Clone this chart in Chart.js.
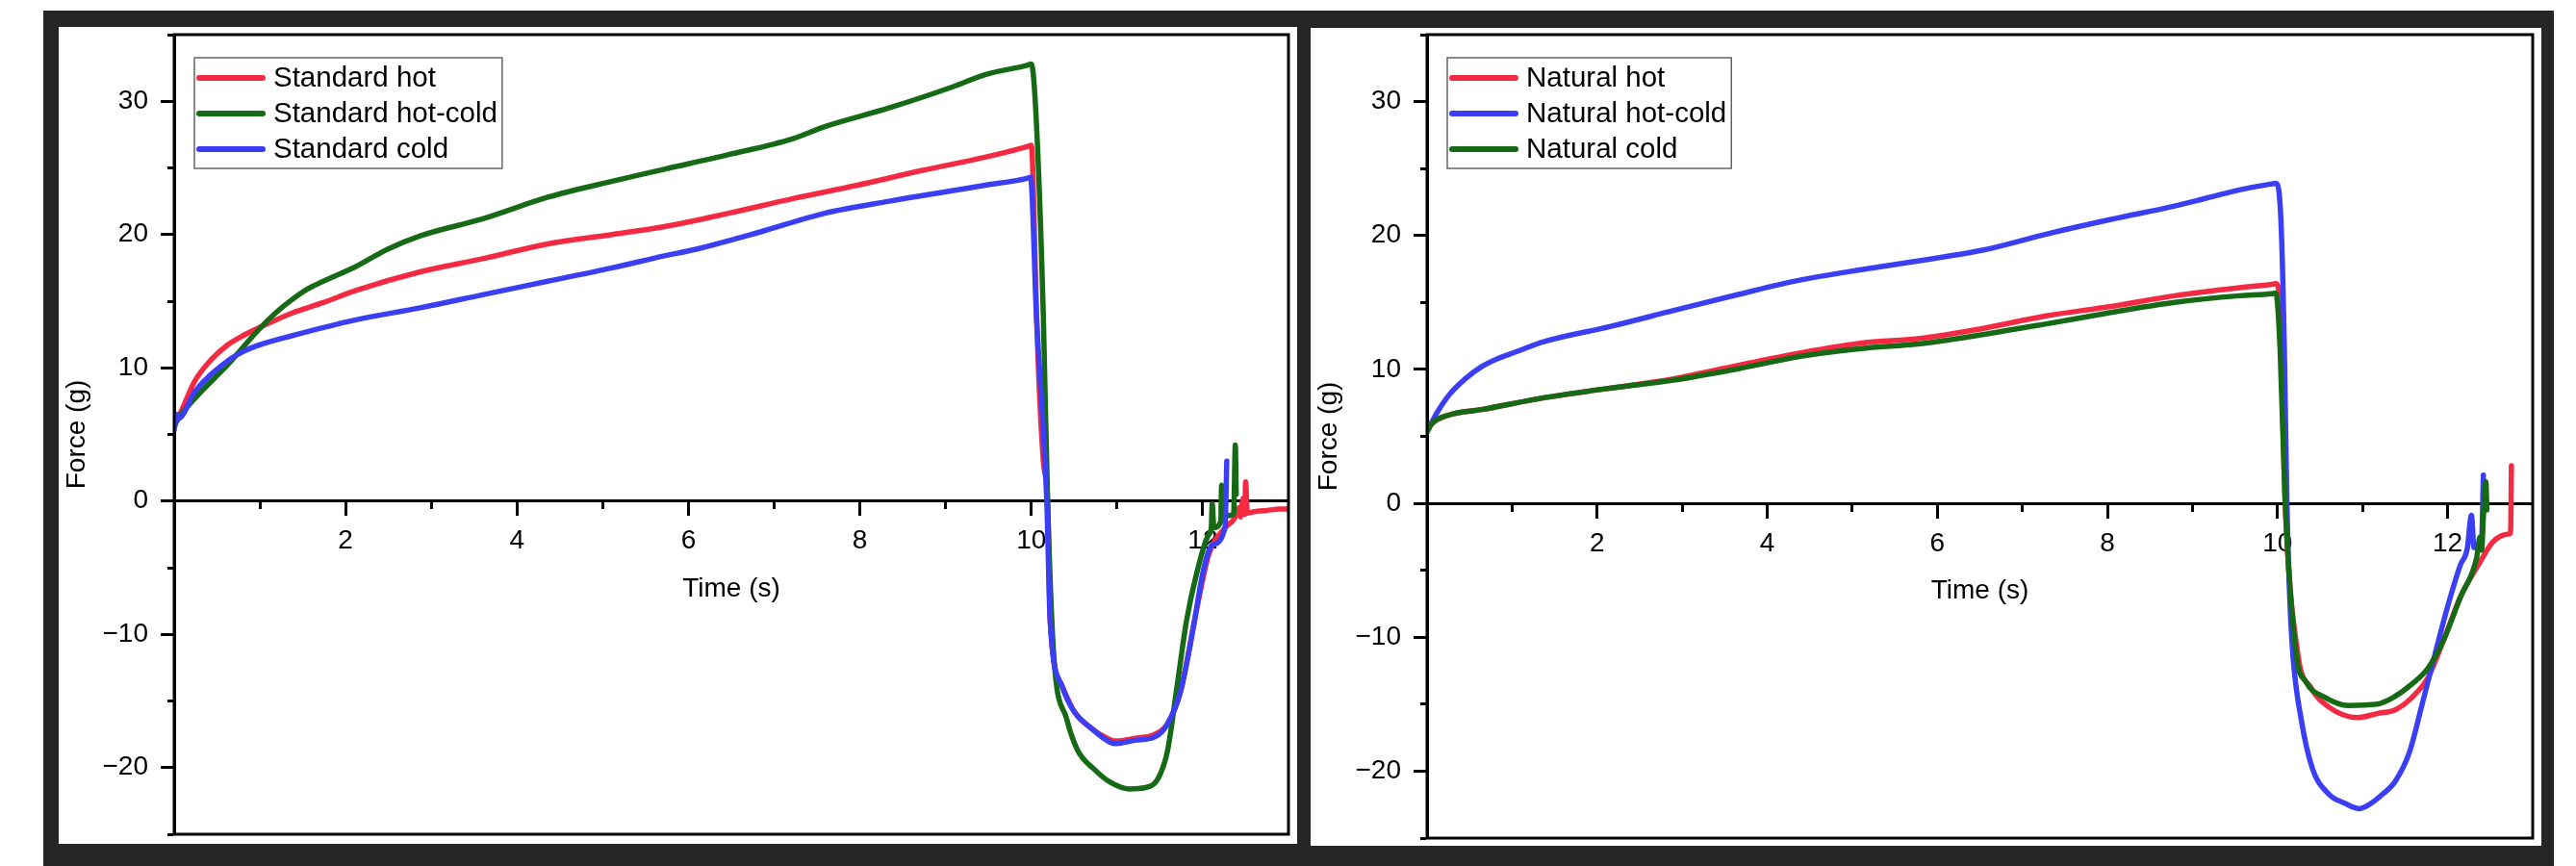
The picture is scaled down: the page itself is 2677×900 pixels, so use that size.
<!DOCTYPE html>
<html>
<head>
<meta charset="utf-8">
<script src="https://cdn.jsdelivr.net/npm/chart.js@4.4.1/dist/chart.umd.min.js"></script>
<style>
  html, body { margin: 0; padding: 0; background: #fff; }
  body { width: 2677px; height: 900px; position: relative; overflow: hidden; }
  .backdrop { position: absolute; left: 45px; top: 11px; width: 2609px; height: 889px; background: #262626; }
  .panel { position: absolute; background: #fff; }
  #leftPanel { left: 61px; top: 28px; width: 1287px; height: 849px; }
  #rightPanel { left: 1362px; top: 29px; width: 1279px; height: 850px; }
  canvas { display: block; }
</style>
</head>
<body>
<div class="backdrop"></div>
<div class="panel" id="leftPanel"><canvas id="standardChart" width="1287" height="849"></canvas></div>
<div class="panel" id="rightPanel"><canvas id="naturalChart" width="1279" height="850"></canvas></div>

<script>
// series labels + colours
const standardLabels = ['Standard hot', 'Standard hot-cold', 'Standard cold'];
const naturalLabels = ['Natural hot', 'Natural hot-cold', 'Natural cold'];
const standardColors = ['rgb(243, 42, 66)', 'rgb(22, 106, 22)', 'rgb(58, 62, 245)'];
const naturalColors = ['rgb(243, 42, 66)', 'rgb(58, 62, 245)', 'rgb(22, 106, 22)'];

// tick labels shown on the axes
const xLabelTicks = [2, 4, 6, 8, 10, 12];
const yLabelTicks = [-20, -10, 0, 10, 20, 30];

// Standard hot
const stdHotTime = [0, 0.05, 0.24, 0.43, 0.62, 0.80, 0.99, 1.37, 1.74, 2.12, 2.87, 3.61, 4.36, 5.11, 5.72, 6.47, 7.22, 7.97, 8.72, 9.46, 9.95, 10.0, 10.02, 10.06, 10.14, 10.19, 10.22, 10.36, 10.50, 10.69, 10.92, 10.99, 11.21, 11.44, 11.59, 11.74, 11.93, 12.07, 12.26, 12.37, 12.42, 12.44, 12.47, 12.49, 12.50, 12.52, 12.60, 12.75, 12.90, 13.0];
const stdHotForce = [5.8, 6.3, 9.0, 10.6, 11.7, 12.4, 13.0, 14.1, 14.9, 15.8, 17.2, 18.2, 19.3, 20.0, 20.6, 21.6, 22.7, 23.7, 24.8, 25.8, 26.6, 26.7, 24.3, 14.0, 3.0, 0, -9.0, -13.9, -15.8, -17.0, -17.9, -18.0, -17.8, -17.5, -16.7, -14.3, -8.1, -4.0, -2.0, -1.3, -0.5, -1.2, 0.2, -1.0, 1.45, -0.9, -0.8, -0.7, -0.6, -0.6];

// Standard hot-cold
const stdHotColdTime = [0, 0.05, 0.24, 0.62, 0.99, 1.18, 1.37, 1.55, 1.74, 2.12, 2.49, 2.87, 3.61, 4.36, 5.11, 5.72, 6.47, 7.22, 7.59, 8.34, 9.09, 9.46, 9.95, 10.0, 10.06, 10.14, 10.19, 10.26, 10.41, 10.54, 10.73, 10.92, 11.14, 11.33, 11.48, 11.59, 11.70, 11.81, 11.93, 12.07, 12.10, 12.11, 12.13, 12.21, 12.22, 12.24, 12.36, 12.38, 12.39];
const stdHotColdForce = [5.6, 6.2, 7.7, 10.2, 12.9, 14.1, 15.1, 15.9, 16.5, 17.6, 18.9, 19.9, 21.2, 22.8, 24.0, 24.9, 26.0, 27.2, 28.1, 29.5, 31.1, 32.0, 32.7, 32.8, 28.3, 13.9, 0, -11.4, -16.3, -18.7, -20.1, -21.1, -21.6, -21.5, -20.8, -18.7, -13.9, -9.0, -5.4, -2.5, -2.0, -0.2, -2.0, -1.5, 1.2, -1.1, -1.0, 4.2, 0.5];

// Standard cold
const stdColdTime = [0, 0.03, 0.05, 0.24, 0.62, 0.80, 0.99, 1.37, 2.12, 2.87, 3.61, 4.36, 5.11, 5.72, 6.09, 6.84, 7.59, 8.34, 9.09, 9.46, 9.94, 9.99, 10.06, 10.18, 10.22, 10.36, 10.50, 10.69, 10.92, 10.99, 11.21, 11.44, 11.59, 11.74, 11.89, 12.0, 12.11, 12.26, 12.28];
const stdColdForce = [5.3, 6.5, 6.2, 8.2, 10.5, 11.2, 11.7, 12.4, 13.6, 14.5, 15.5, 16.5, 17.5, 18.4, 18.9, 20.2, 21.6, 22.5, 23.3, 23.7, 24.2, 24.3, 13.9, 0, -9.0, -13.9, -15.8, -17.0, -18.1, -18.2, -17.95, -17.7, -16.7, -14.3, -9.5, -5.4, -3.3, -2.0, 3.0];

// Natural hot
const natHotTime = [0, 0.05, 0.26, 0.64, 1.39, 2.15, 2.90, 3.66, 4.41, 5.16, 5.77, 6.53, 7.28, 8.04, 8.79, 9.55, 9.93, 9.98, 10.02, 10.09, 10.24, 10.39, 10.60, 10.94, 11.17, 11.39, 11.58, 11.77, 11.96, 12.15, 12.38, 12.53, 12.72, 12.74, 12.75];
const natHotForce = [5.4, 5.9, 6.6, 7.0, 7.9, 8.6, 9.3, 10.3, 11.25, 12.0, 12.3, 13.05, 14.0, 14.7, 15.5, 16.1, 16.35, 16.4, 15.5, 0, -11.3, -13.75, -15.2, -16.0, -15.7, -15.4, -14.5, -13.0, -10.1, -7.0, -4.4, -2.9, -2.3, -2.2, 2.8];

// Natural hot-cold
const natHotColdTime = [0, 0.05, 0.11, 0.26, 0.45, 0.64, 0.83, 1.02, 1.39, 2.15, 2.90, 3.66, 4.41, 5.16, 5.77, 6.53, 7.28, 8.04, 8.79, 9.17, 9.55, 9.93, 9.98, 10.04, 10.08, 10.11, 10.14, 10.18, 10.28, 10.41, 10.60, 10.79, 10.96, 11.05, 11.24, 11.39, 11.55, 11.70, 11.85, 12.0, 12.15, 12.23, 12.28, 12.31, 12.40, 12.42];
const natHotColdForce = [5.6, 6.0, 6.7, 8.1, 9.3, 10.2, 10.8, 11.25, 12.1, 13.2, 14.4, 15.6, 16.7, 17.5, 18.1, 18.9, 20.1, 21.2, 22.2, 22.8, 23.4, 23.85, 23.9, 21.1, 11.5, 0, -6.5, -11.3, -16.2, -19.8, -21.7, -22.4, -22.8, -22.6, -21.7, -20.7, -18.6, -15.0, -11.3, -7.7, -4.6, -3.4, -0.9, -3.3, -2.6, 2.1];

// Natural cold
const natColdTime = [0, 0.05, 0.26, 0.64, 1.39, 2.15, 2.90, 3.66, 4.41, 5.16, 5.77, 6.53, 7.28, 8.04, 8.79, 9.55, 9.93, 9.98, 10.03, 10.09, 10.22, 10.33, 10.56, 10.83, 11.17, 11.36, 11.58, 11.77, 11.96, 12.15, 12.34, 12.38, 12.40, 12.42, 12.45, 12.46];
const natColdForce = [5.3, 5.9, 6.6, 7.0, 7.9, 8.6, 9.2, 10.05, 11.0, 11.6, 11.9, 12.6, 13.4, 14.25, 15.0, 15.5, 15.65, 15.7, 11.5, 0, -11.3, -13.3, -14.5, -15.1, -15.0, -14.5, -13.5, -12.3, -10.1, -7.0, -4.1, -2.5, -3.5, -1.0, 1.6, -0.5];


Chart.defaults.font.family = "'Liberation Sans', Arial, sans-serif";
Chart.defaults.color = '#000';

const tickFont = { size: 28 };
const titleFont = { size: 28 };

function toPoints(times, forces) {
    return times.map((t, i) => ({ x: t, y: forces[i] }));
}

// black box round the plot area (top, right, bottom edges)
const plotFrame = {
    id: 'plotFrame',
    afterDraw(chart) {
        const { ctx, chartArea: a } = chart;
        ctx.save();
        ctx.strokeStyle = '#000';
        ctx.lineWidth = 3;
        ctx.strokeRect(a.left, a.top, a.right - a.left, a.bottom - a.top);
        ctx.restore();
    }
};

// legend in a thin grey box, top-left inside the plot
const boxLegend = {
    id: 'boxLegend',
    afterDraw(chart, args, opts) {
        const { ctx, chartArea: a } = chart;
        const sets = chart.data.datasets;
        ctx.save();
        ctx.font = opts.fontSize + "px 'Liberation Sans', Arial, sans-serif";
        const left = a.left + opts.offsetX;
        const top = a.top + opts.offsetY;
        const textX = left + opts.inset + opts.sample + opts.gap;
        const widest = Math.max(...sets.map(d => ctx.measureText(d.label).width));
        const w = textX - left + widest + opts.padRight;

        ctx.fillStyle = '#fff';
        ctx.fillRect(left, top, w, opts.height);
        ctx.strokeStyle = '#666';
        ctx.lineWidth = 1.5;
        ctx.strokeRect(left, top, w, opts.height);

        sets.forEach((d, i) => {
            const cy = top + opts.firstRow + i * opts.rowStep;
            ctx.strokeStyle = d.borderColor;
            ctx.lineWidth = 6;
            ctx.lineCap = 'round';
            ctx.beginPath();
            ctx.moveTo(left + opts.inset + 3, cy);
            ctx.lineTo(left + opts.inset + opts.sample - 3, cy);
            ctx.stroke();
            ctx.fillStyle = '#000';
            ctx.textBaseline = 'middle';
            ctx.fillText(d.label, textX, cy + 1);
        });
        ctx.restore();
    }
};

function makeChart(canvasId, labels, colors, series, axisWidth, padding) {
    const datasets = labels.map((label, i) => ({
        label: label,
        data: toPoints(series[i][0], series[i][1]),
        borderColor: colors[i],
        backgroundColor: colors[i],
        borderWidth: 5.5,
        pointRadius: 0,
        cubicInterpolationMode: 'monotone',
        borderJoinStyle: 'round',
        borderCapStyle: 'round',
        order: labels.length - i   // later series drawn on top
    }));

    return new Chart(document.getElementById(canvasId), {
        type: 'line',
        data: { datasets: datasets },
        options: {
            responsive: false,
            animation: false,
            events: [],
            layout: { padding: padding },
            plugins: {
                legend: { display: false },
                tooltip: { enabled: false },
                boxLegend: {
                    offsetX: 21, offsetY: 24, height: 115,
                    inset: 2, sample: 72, gap: 8, padRight: 5,
                    firstRow: 21, rowStep: 37, fontSize: 29.5
                }
            },
            scales: {
                x: {
                    type: 'linear',
                    min: 0,
                    max: 13,
                    position: { y: 0 },
                    border: { color: '#000', width: 3 },
                    grid: {
                        drawOnChartArea: false,
                        tickLength: 14,
                        tickWidth: 3,
                        tickColor: '#000',
                        // minor ticks only half as long
                        tickBorderDash: (c) => {
                            const v = c.tick ? c.tick.value : 0;
                            if (v === 13) return [0, 100];
                            return v % 2 !== 0 ? [7, 100] : [];
                        }
                    },
                    ticks: {
                        stepSize: 1,
                        autoSkip: false,
                        maxRotation: 0,
                        padding: 11,
                        font: tickFont,
                        callback: (v) => xLabelTicks.includes(v) ? String(v) : ''
                    },
                    title: {
                        display: true,
                        text: 'Time (s)',
                        font: titleFont,
                        padding: { top: 5, bottom: 0 }
                    },
                    afterFit: (s) => { s.paddingLeft = 0; s.paddingRight = 0; }
                },
                y: {
                    type: 'linear',
                    min: -25,
                    max: 35,
                    position: 'left',
                    border: { color: '#000', width: 3 },
                    grid: {
                        drawOnChartArea: false,
                        tickLength: 14,
                        tickWidth: 3,
                        tickColor: '#000',
                        tickBorderDash: (c) => (c.tick && c.tick.value % 10 !== 0) ? [7, 7] : [],
                        tickBorderDashOffset: (c) => (c.tick && c.tick.value % 10 !== 0) ? 7 : 0
                    },
                    ticks: {
                        stepSize: 5,
                        autoSkip: false,
                        padding: 13,
                        font: tickFont,
                        callback: (v) => yLabelTicks.includes(v) ? String(v).replace('-', '\u2212') : ''
                    },
                    title: {
                        display: true,
                        text: 'Force (g)',
                        font: titleFont,
                        padding: { top: 2, bottom: 0 }
                    },
                    afterFit: (s) => { s.width = axisWidth; s.paddingTop = 0; s.paddingBottom = 0; }
                }
            }
        },
        plugins: [plotFrame, boxLegend]
    });
}

makeChart('standardChart', standardLabels, standardColors,
    [[stdHotTime, stdHotForce], [stdHotColdTime, stdHotColdForce], [stdColdTime, stdColdForce]],
    120, { left: 0, top: 8, right: 9, bottom: 10 });

makeChart('naturalChart', naturalLabels, naturalColors,
    [[natHotTime, natHotForce], [natHotColdTime, natHotColdForce], [natColdTime, natColdForce]],
    121, { left: 0, top: 7, right: 9, bottom: 8 });
</script>
</body>
</html>
